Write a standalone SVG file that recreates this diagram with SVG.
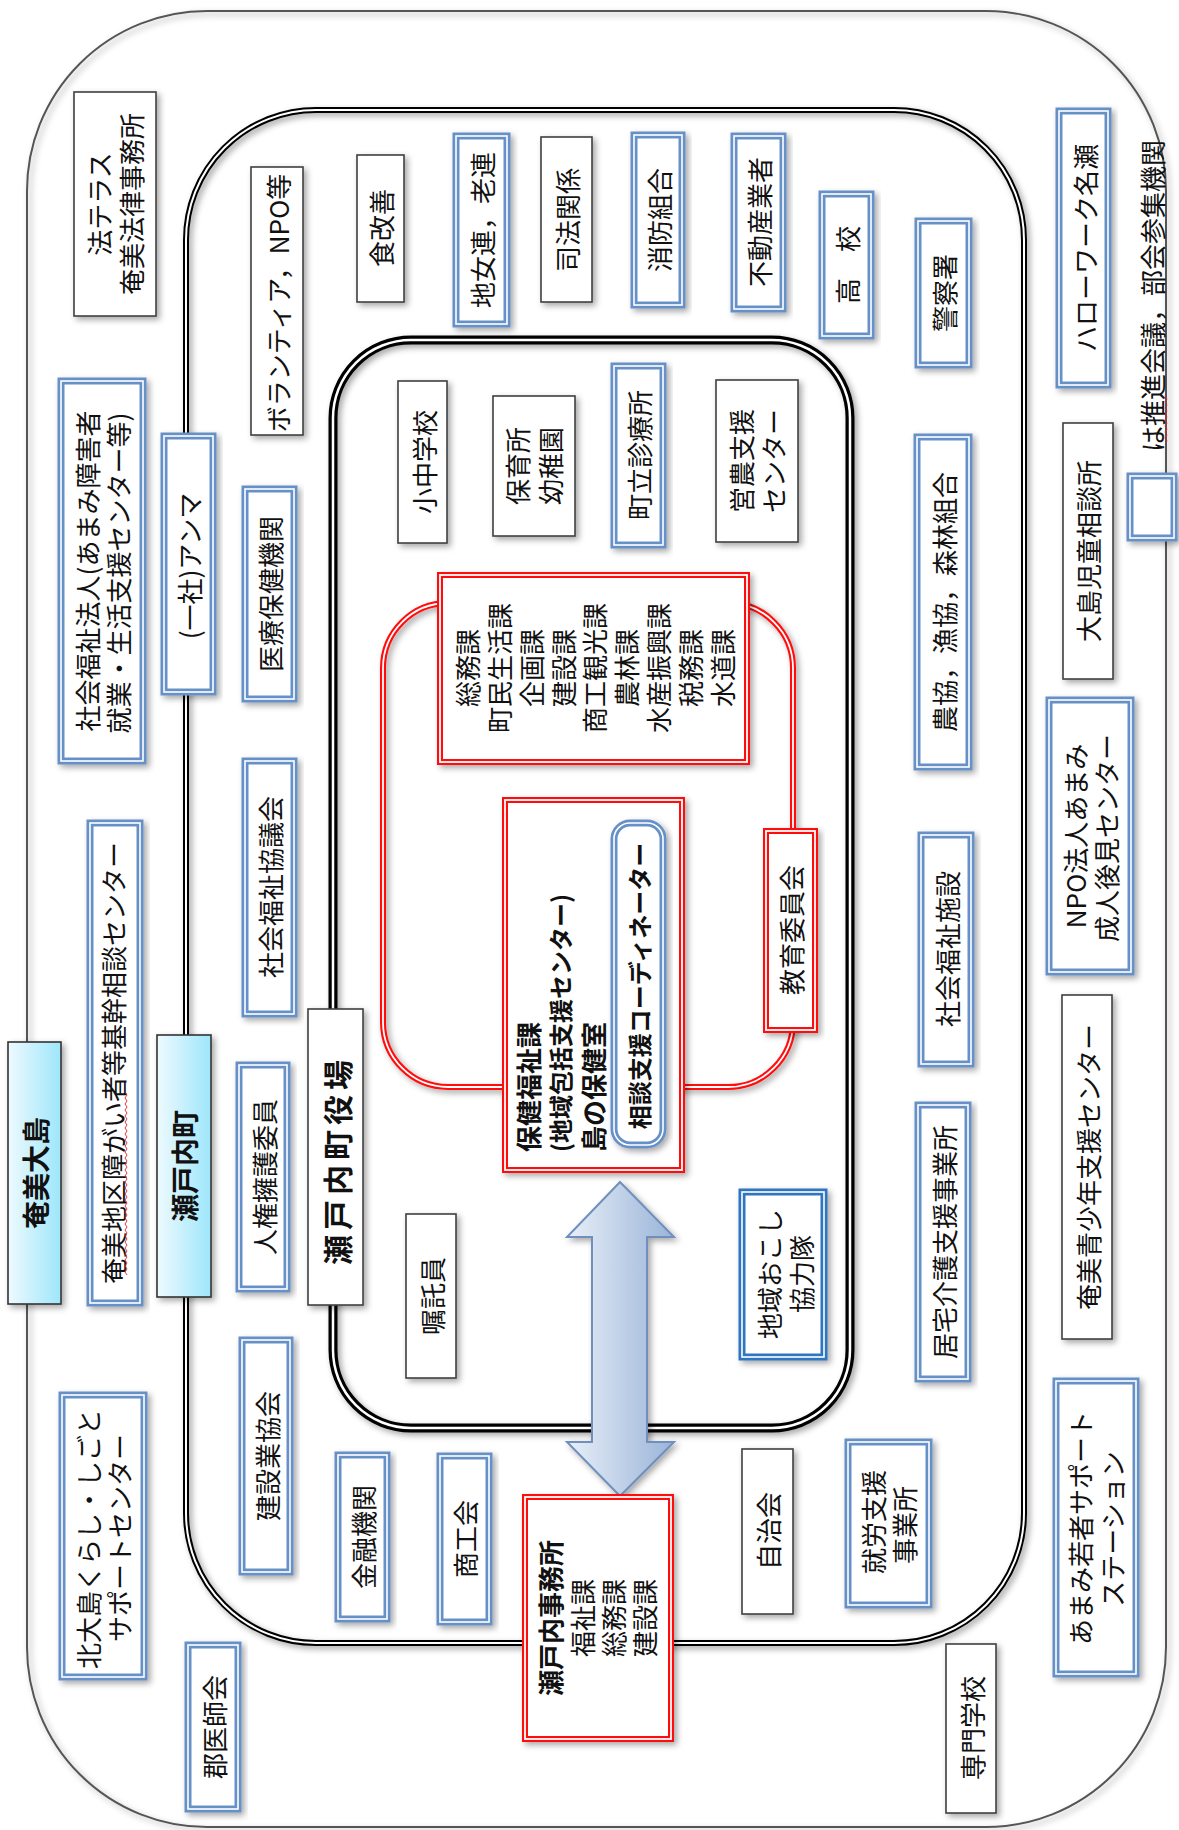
<svg xmlns="http://www.w3.org/2000/svg" width="1179" height="1830" viewBox="0 0 1179 1830">
<defs>
<style>
.t{font-family:"Noto Sans CJK JP","Noto Sans CJK SC",sans-serif;font-size:26px;text-anchor:middle;dominant-baseline:central;fill:#111}
.b{font-weight:700}
.st{text-anchor:start}
.plain{fill:#fff;stroke:#404040;stroke-width:1.6}
.blue{fill:#fff;stroke:#6690c8;stroke-width:7}
.blue2{fill:#fff;stroke:#2f75c2;stroke-width:7}
.in{fill:none;stroke:#fff;stroke-width:1.6}
.red{fill:#fff;stroke:#ff1010;stroke-width:6}
.grad{fill:url(#lb);stroke:#333;stroke-width:1.6}
.cont{fill:none}
</style>
<filter id="sh" x="-20%" y="-20%" width="140%" height="140%">
<feDropShadow dx="3" dy="3" stdDeviation="3" flood-color="#000" flood-opacity="0.35"/>
</filter>
<linearGradient id="lb" x1="0" y1="0" x2="1" y2="0">
<stop offset="0" stop-color="#eefaff"/>
<stop offset="1" stop-color="#9ee6fa"/>
</linearGradient>
<linearGradient id="ag" x1="0" y1="0" x2="1" y2="0">
<stop offset="0" stop-color="#e8eff8"/>
<stop offset="1" stop-color="#9ab4d8"/>
</linearGradient>
<pattern id="wave" width="4" height="6" patternUnits="userSpaceOnUse">
<path d="M1 0 L3 3 L1 6" fill="none" stroke="#e02020" stroke-width="0.9"/>
</pattern>
</defs>
<rect width="1179" height="1830" fill="#fff"/>

<g id="containers">
<rect x="27" y="11" width="1139" height="1816" rx="180" fill="none" stroke="#555" stroke-width="2" filter="url(#sh)"/>
<rect x="186" y="110" width="838" height="1533" rx="130" fill="none" stroke="#000" stroke-width="6" filter="url(#sh)"/>
<rect x="186" y="110" width="838" height="1533" rx="130" fill="none" stroke="#fff" stroke-width="2"/>
<rect x="333" y="340" width="517" height="1088" rx="78" fill="none" stroke="#000" stroke-width="9" filter="url(#sh)"/>
<rect x="333" y="340" width="517" height="1088" rx="78" fill="none" stroke="#fff" stroke-width="2.5"/>
</g>

<g id="connectors">
<rect x="383" y="603" width="410" height="484" rx="65" fill="none" stroke="#ff1010" stroke-width="6" filter="url(#sh)"/>
<rect x="383" y="603" width="410" height="484" rx="65" fill="none" stroke="#fff" stroke-width="1.8"/>
<polygon points="620,1182 674,1237 647,1237 647,1442 674,1442 620,1496 567,1442 592,1442 592,1237 567,1237" fill="url(#ag)" stroke="#6f8fbf" stroke-width="2" filter="url(#sh)"/>
</g>

<g id="n-houterasu"><rect class="plain" x="74" y="92" width="82" height="224" filter="url(#sh)"/>
<text class="t" transform="translate(98 204) rotate(-90)">法テラス</text>
<text class="t" transform="translate(130 204) rotate(-90)">奄美法律事務所</text></g>

<g id="n-shafuku"><rect class="blue" x="61" y="381" width="82" height="380" filter="url(#sh)"/><rect class="in" x="61" y="381" width="82" height="380"/>
<text class="t" transform="translate(86 571) rotate(-90)">社会福祉法人(あまみ障害者</text>
<text class="t" transform="translate(117 573) rotate(-90)">就業・生活支援センター等)</text></g>

<g id="n-kikan"><rect class="blue" x="90" y="823" width="50" height="480" filter="url(#sh)"/><rect class="in" x="90" y="823" width="50" height="480"/>
<text class="t" transform="translate(112 1063) rotate(-90)">奄美地区障がい者等基幹相談センター</text>
<rect x="124" y="1093" width="4" height="182" fill="url(#wave)"/></g>

<g id="n-amami-oshima"><rect class="grad" x="8" y="1042" width="53" height="262" filter="url(#sh)"/>
<text class="t b" style="font-size:28px" transform="translate(35 1173) rotate(-90)">奄美大島</text></g>

<g id="n-kitaoshima"><rect class="blue" x="62" y="1395" width="82" height="282" filter="url(#sh)"/><rect class="in" x="62" y="1395" width="82" height="282"/>
<text class="t" transform="translate(87 1539) rotate(-90)">北大島くらし・しごと</text>
<text class="t" transform="translate(118 1538) rotate(-90)">サポートセンター</text></g>

<g id="n-gunishikai"><rect class="blue" x="188" y="1645" width="50" height="164" filter="url(#sh)"/><rect class="in" x="188" y="1645" width="50" height="164"/>
<text class="t" transform="translate(213 1727) rotate(-90)">郡医師会</text></g>

<g id="n-hellowork"><rect class="blue" x="1059" y="111" width="49" height="274" filter="url(#sh)"/><rect class="in" x="1059" y="111" width="49" height="274"/>
<text class="t" transform="translate(1084 248) rotate(-90)">ハローワーク名瀬</text></g>

<g id="n-legend"><rect class="blue" x="1130" y="476" width="44" height="62" filter="url(#sh)"/><rect class="in" x="1130" y="476" width="44" height="62"/>
<text class="t st" transform="translate(1151 452) rotate(-90)">は推進会議，部会参集機関</text>
<rect x="1164" y="395" width="4" height="48" fill="url(#wave)"/></g>

<g id="n-jido"><rect class="plain" x="1063" y="423" width="50" height="256" filter="url(#sh)"/>
<text class="t" transform="translate(1087 551) rotate(-90)">大島児童相談所</text></g>

<g id="n-npo-amami"><rect class="blue" x="1049" y="700" width="82" height="272" filter="url(#sh)"/><rect class="in" x="1049" y="700" width="82" height="272"/>
<text class="t" transform="translate(1074 836) rotate(-90)">NPO法人あまみ</text>
<text class="t" transform="translate(1105 838) rotate(-90)">成人後見センター</text></g>

<g id="n-seishonen"><rect class="plain" x="1062" y="995" width="50" height="344" filter="url(#sh)"/>
<text class="t" transform="translate(1087 1167) rotate(-90)">奄美青少年支援センター</text></g>

<g id="n-wakamono"><rect class="blue" x="1056" y="1381" width="80" height="293" filter="url(#sh)"/><rect class="in" x="1056" y="1381" width="80" height="293"/>
<text class="t" transform="translate(1079 1528) rotate(-90)">あまみ若者サポート</text>
<text class="t" transform="translate(1111 1529) rotate(-90)">ステーション</text></g>

<g id="n-senmon"><rect class="plain" x="946" y="1644" width="50" height="169" filter="url(#sh)"/>
<text class="t" transform="translate(971 1728) rotate(-90)">専門学校</text></g>

<g id="n-setouchi-cho"><rect class="grad" x="157" y="1035" width="54" height="262" filter="url(#sh)"/>
<text class="t b" style="font-size:28px" transform="translate(184 1166) rotate(-90)">瀬戸内町</text></g>

<g id="n-anma"><rect class="blue" x="164" y="436" width="49" height="256" filter="url(#sh)"/><rect class="in" x="164" y="436" width="49" height="256"/>
<text class="t" transform="translate(188 566) rotate(-90)">(一社)アンマ</text></g>

<g id="n-volunteer"><rect class="plain" x="251" y="167" width="52" height="268" filter="url(#sh)"/>
<text class="t" transform="translate(277 303) rotate(-90)">ボランティア，NPO等</text></g>

<g id="n-shokukaizen"><rect class="plain" x="357" y="155" width="47" height="147" filter="url(#sh)"/>
<text class="t" transform="translate(380 228) rotate(-90)">食改善</text></g>

<g id="n-chijoren"><rect class="blue" x="456" y="136" width="51" height="188" filter="url(#sh)"/><rect class="in" x="456" y="136" width="51" height="188"/>
<text class="t" transform="translate(481 230) rotate(-90)">地女連，老連</text></g>

<g id="n-shiho"><rect class="plain" x="541" y="137" width="51" height="165" filter="url(#sh)"/>
<text class="t" transform="translate(566 220) rotate(-90)">司法関係</text></g>

<g id="n-shobo"><rect class="blue" x="634" y="135" width="48" height="170" filter="url(#sh)"/><rect class="in" x="634" y="135" width="48" height="170"/>
<text class="t" transform="translate(658 220) rotate(-90)">消防組合</text></g>

<g id="n-fudosan"><rect class="blue" x="734" y="136" width="49" height="173" filter="url(#sh)"/><rect class="in" x="734" y="136" width="49" height="173"/>
<text class="t" transform="translate(758 222) rotate(-90)">不動産業者</text></g>

<g id="n-koko"><rect class="blue" x="822" y="194" width="49" height="142" filter="url(#sh)"/><rect class="in" x="822" y="194" width="49" height="142"/>
<text class="t" transform="translate(846 265) rotate(-90)">高　校</text></g>

<g id="n-keisatsu"><rect class="blue" x="918" y="221" width="51" height="144" filter="url(#sh)"/><rect class="in" x="918" y="221" width="51" height="144"/>
<text class="t" transform="translate(943 293) rotate(-90)">警察署</text></g>

<g id="n-iryo"><rect class="blue" x="245" y="489" width="49" height="210" filter="url(#sh)"/><rect class="in" x="245" y="489" width="49" height="210"/>
<text class="t" transform="translate(269 594) rotate(-90)">医療保健機関</text></g>

<g id="n-shakyo"><rect class="blue" x="245" y="761" width="49" height="253" filter="url(#sh)"/><rect class="in" x="245" y="761" width="49" height="253"/>
<text class="t" transform="translate(269 887) rotate(-90)">社会福祉協議会</text></g>

<g id="n-jinken"><rect class="blue" x="239" y="1065" width="48" height="224" filter="url(#sh)"/><rect class="in" x="239" y="1065" width="48" height="224"/>
<text class="t" transform="translate(263 1177) rotate(-90)">人権擁護委員</text></g>

<g id="n-kensetsu"><rect class="blue" x="242" y="1340" width="48" height="232" filter="url(#sh)"/><rect class="in" x="242" y="1340" width="48" height="232"/>
<text class="t" transform="translate(266 1456) rotate(-90)">建設業協会</text></g>

<g id="n-kinyu"><rect class="blue" x="338" y="1455" width="49" height="164" filter="url(#sh)"/><rect class="in" x="338" y="1455" width="49" height="164"/>
<text class="t" transform="translate(362 1537) rotate(-90)">金融機関</text></g>

<g id="n-shokokai"><rect class="blue" x="440" y="1456" width="49" height="166" filter="url(#sh)"/><rect class="in" x="440" y="1456" width="49" height="166"/>
<text class="t" transform="translate(464 1539) rotate(-90)">商工会</text></g>

<g id="n-jimusho"><rect class="red" x="525" y="1497" width="146" height="242" filter="url(#sh)"/><rect class="in" x="525" y="1497" width="146" height="242" style="stroke-width:1.8"/>
<text class="t b" transform="translate(549 1618) rotate(-90)">瀬戸内事務所</text>
<text class="t" transform="translate(581 1618) rotate(-90)">福祉課</text>
<text class="t" transform="translate(612 1618) rotate(-90)">総務課</text>
<text class="t" transform="translate(643 1618) rotate(-90)">建設課</text></g>

<g id="n-jichikai"><rect class="plain" x="742" y="1449" width="51" height="165" filter="url(#sh)"/>
<text class="t" transform="translate(767 1531) rotate(-90)">自治会</text></g>

<g id="n-shuro"><rect class="blue" x="848" y="1442" width="81" height="163" filter="url(#sh)"/><rect class="in" x="848" y="1442" width="81" height="163"/>
<text class="t" transform="translate(872 1522) rotate(-90)">就労支援</text>
<text class="t" transform="translate(903 1525) rotate(-90)">事業所</text></g>

<g id="n-kyotaku"><rect class="blue" x="918" y="1105" width="50" height="274" filter="url(#sh)"/><rect class="in" x="918" y="1105" width="50" height="274"/>
<text class="t" transform="translate(943 1242) rotate(-90)">居宅介護支援事業所</text></g>

<g id="n-shisetsu"><rect class="blue" x="921" y="835" width="50" height="229" filter="url(#sh)"/><rect class="in" x="921" y="835" width="50" height="229"/>
<text class="t" transform="translate(946 949) rotate(-90)">社会福祉施設</text></g>

<g id="n-nokyo"><rect class="blue" x="917" y="437" width="52" height="330" filter="url(#sh)"/><rect class="in" x="917" y="437" width="52" height="330"/>
<text class="t" transform="translate(943 602) rotate(-90)">農協，漁協，森林組合</text></g>

<g id="n-yakuba"><rect class="plain" x="308" y="1009" width="55" height="296" filter="url(#sh)"/>
<text class="t b" style="font-size:30px;letter-spacing:5px" transform="translate(336 1160) rotate(-90)">瀬戸内町役場</text></g>

<g id="n-shochu"><rect class="plain" x="398" y="381" width="49" height="162" filter="url(#sh)"/>
<text class="t" transform="translate(423 462) rotate(-90)">小中学校</text></g>

<g id="n-hoikusho"><rect class="plain" x="493" y="396" width="82" height="140" filter="url(#sh)"/>
<text class="t" transform="translate(516 466) rotate(-90)">保育所</text>
<text class="t" transform="translate(549 466) rotate(-90)">幼稚園</text></g>

<g id="n-shinryojo"><rect class="blue" x="614" y="366" width="49" height="179" filter="url(#sh)"/><rect class="in" x="614" y="366" width="49" height="179"/>
<text class="t" transform="translate(638 455) rotate(-90)">町立診療所</text></g>

<g id="n-einou"><rect class="plain" x="716" y="380" width="82" height="162" filter="url(#sh)"/>
<text class="t" transform="translate(740 461) rotate(-90)">営農支援</text>
<text class="t" transform="translate(772 461) rotate(-90)">センター</text></g>

<g id="n-kaka"><rect class="red" x="440" y="575" width="307" height="187" filter="url(#sh)"/><rect class="in" x="440" y="575" width="307" height="187" style="stroke-width:1.8"/>
<text class="t" transform="translate(466 668) rotate(-90)">総務課</text>
<text class="t" transform="translate(498 668) rotate(-90)">町民生活課</text>
<text class="t" transform="translate(530 668) rotate(-90)">企画課</text>
<text class="t" transform="translate(562 668) rotate(-90)">建設課</text>
<text class="t" transform="translate(593 668) rotate(-90)">商工観光課</text>
<text class="t" transform="translate(625 668) rotate(-90)">農林課</text>
<text class="t" transform="translate(657 668) rotate(-90)">水産振興課</text>
<text class="t" transform="translate(689 668) rotate(-90)">税務課</text>
<text class="t" transform="translate(721 668) rotate(-90)">水道課</text></g>

<g id="n-hoken"><rect class="red" x="505" y="800" width="177" height="370" filter="url(#sh)"/><rect class="in" x="505" y="800" width="177" height="370" style="stroke-width:1.8"/>
<text class="t b st" transform="translate(527 1152) rotate(-90)">保健福祉課</text>
<text class="t b st" style="font-size:24px" transform="translate(559 1152) rotate(-90)">(地域包括支援センター)</text>
<text class="t b st" transform="translate(592 1152) rotate(-90)">島の保健室</text></g>

<g id="n-coordinator"><rect class="blue" x="614" y="823" width="49" height="322" rx="16" filter="url(#sh)"/><rect class="in" x="614" y="823" width="49" height="322" rx="16"/>
<text class="t b" style="font-size:24px" transform="translate(638 986) rotate(-90)">相談支援コーディネーター</text></g>

<g id="n-kyoiku"><rect class="red" x="766" y="831" width="49" height="199" filter="url(#sh)"/><rect class="in" x="766" y="831" width="49" height="199" style="stroke-width:1.8"/>
<text class="t" transform="translate(790 930) rotate(-90)">教育委員会</text></g>

<g id="n-chiikiokoshi"><rect class="blue2" x="742" y="1192" width="82" height="165" filter="url(#sh)"/><rect class="in" x="742" y="1192" width="82" height="165"/>
<text class="t" transform="translate(768 1274) rotate(-90)">地域おこし</text>
<text class="t" transform="translate(800 1274) rotate(-90)">協力隊</text></g>

<g id="n-shokutaku"><rect class="plain" x="406" y="1214" width="50" height="164" filter="url(#sh)"/>
<text class="t" transform="translate(431 1296) rotate(-90)">嘱託員</text></g>
</svg>
